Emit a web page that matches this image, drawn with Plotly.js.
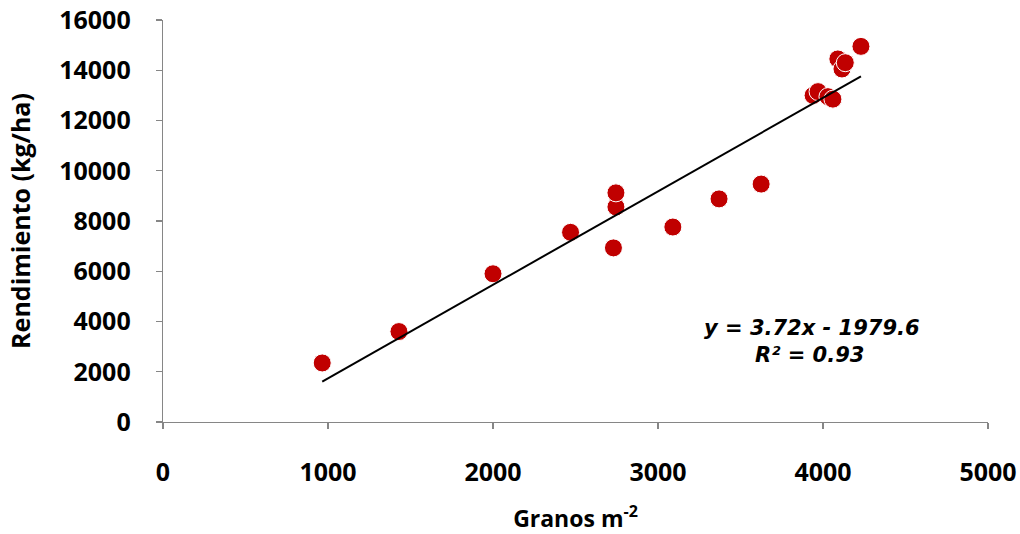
<!DOCTYPE html>
<html>
<head>
<meta charset="utf-8">
<script src="https://cdn.plot.ly/plotly-3.0.1.min.js"></script>
<style>html,body{margin:0;padding:0;background:#fff;}#chart{width:1020px;height:534px;}</style>
</head>
<body>
<div id="chart"></div>
<script>
const granos = [965, 1430, 2000, 2470, 2730, 2745, 2745, 3090, 3370, 3625, 3940, 3970, 4030, 4060, 4090, 4115, 4135, 4230];
const rendimiento = [2350, 3600, 5900, 7550, 6930, 8560, 9120, 7760, 8880, 9470, 13000, 13150, 12950, 12850, 14450, 14050, 14300, 14950];
const slope = 3.72;
const intercept = -1979.6;
const r2Label = "R² = 0.93";
const eqLabel = "y = 3.72x - 1979.6";
const xTicks = [0, 1000, 2000, 3000, 4000, 5000];
const yTicks = [0, 2000, 4000, 6000, 8000, 10000, 12000, 14000, 16000];

const xMin = Math.min(...granos), xMax = Math.max(...granos);
const trendX = [xMin, xMax];
const trendY = trendX.map(v => slope * v + intercept);

const FONT = '"Open Sans", "Noto Sans", "DejaVu Sans", sans-serif';
const EQFONT = '"DejaVu Sans", Verdana, sans-serif';

const data = [
  {
    x: granos, y: rendimiento, type: 'scatter', mode: 'markers',
    marker: {size: 18, color: '#c00000', line: {color: '#ffffff', width: 1}},
    hoverinfo: 'x+y', showlegend: false
  },
  {
    x: trendX, y: trendY, type: 'scatter', mode: 'lines',
    line: {color: '#000000', width: 2}, showlegend: false
  }
];

const axisCommon = {
  showgrid: false, zeroline: false, showline: true, linecolor: '#868686', linewidth: 1.3,
  ticks: 'outside', ticklen: 6, tickcolor: '#868686', tickwidth: 1.3,
  tickfont: {family: FONT, size: 25, color: '#000', weight: 'bold'}
};

const layout = {
  width: 1020, height: 534,
  margin: {l: 163, r: 32, t: 20, b: 112},
  paper_bgcolor: '#fff', plot_bgcolor: '#fff',
  font: {family: FONT, color: '#000'},
  xaxis: Object.assign({}, axisCommon, {
    range: [0, 5000], tickvals: xTicks, ticktext: xTicks.map(String),
    ticklabelstandoff: 22,
    title: {text: 'Granos m<sup>-2</sup>', font: {family: FONT, size: 23, color: '#000', weight: 'bold'}, standoff: 28}
  }),
  yaxis: Object.assign({}, axisCommon, {
    range: [0, 16000], tickvals: yTicks, ticktext: yTicks.map(String),
    ticklabelstandoff: 20,
    title: {text: 'Rendimiento (kg/ha)', font: {family: FONT, size: 25, color: '#000', weight: 'bold'}, standoff: 21}
  }),
  annotations: [
    {x: 3933, y: 3740, xref: 'x', yref: 'y', text: '<b><i>' + eqLabel + '</i></b>', showarrow: false,
     font: {family: EQFONT, size: 21, color: '#000'}},
    {x: 3921, y: 2680, xref: 'x', yref: 'y', text: '<b><i>' + r2Label + '</i></b>', showarrow: false,
     font: {family: EQFONT, size: 21, color: '#000'}}
  ]
};

Plotly.newPlot('chart', data, layout, {displayModeBar: false, staticPlot: true});
</script>
</body>
</html>
